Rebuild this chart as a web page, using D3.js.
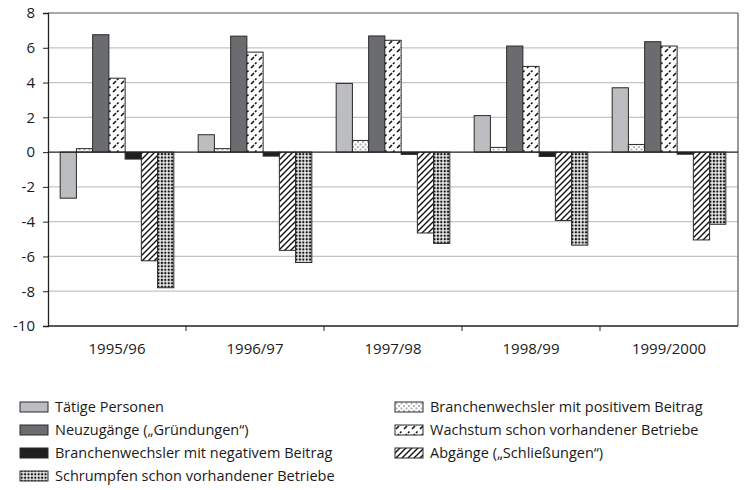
<!DOCTYPE html>
<html lang="de">
<head>
<meta charset="utf-8">
<title>Beschäftigungsentwicklung</title>
<script src="https://cdn.jsdelivr.net/npm/d3@7"></script>
<style>
    body { margin: 0; background: #fff; }
    #chart-container { width: 744px; height: 490px; }
    text { font-family: "Open Sans", "Noto Sans", sans-serif; fill: #1a1a1a; }
    .grid line { stroke: #c4c4c4; stroke-width: 1.2; }
    .bar { stroke: #2a2a2a; stroke-width: 1; }
</style>
</head>
<body>
<div id="chart-container"></div>
<script>
// chart data

const periods = ['1995/96', '1996/97', '1997/98', '1998/99', '1999/2000'];

const seriesNames = [
    'Tätige Personen',
    'Branchenwechsler mit positivem Beitrag',
    'Neuzugänge („Gründungen“)',
    'Wachstum schon vorhandener Betriebe',
    'Branchenwechsler mit negativem Beitrag',
    'Abgänge („Schließungen“)',
    'Schrumpfen schon vorhandener Betriebe'
];

const taetigePersonen   = [-2.65, 1.0, 3.95, 2.1, 3.7];
const wechslerPositiv   = [0.2, 0.2, 0.67, 0.27, 0.44];
const neuzugaenge       = [6.75, 6.67, 6.68, 6.1, 6.35];
const wachstum          = [4.25, 5.75, 6.43, 4.93, 6.1];
const wechslerNegativ   = [-0.4, -0.23, -0.13, -0.25, -0.12];
const abgaenge          = [-6.25, -5.65, -4.65, -3.93, -5.05];
const schrumpfen        = [-7.8, -6.35, -5.25, -5.35, -4.15];

const yTicks = [8, 6, 4, 2, 0, -2, -4, -6, -8, -10];

// legend order as printed (left column, then right column)
const legendLeft = [0, 2, 4, 6];
const legendRight = [1, 3, 5];

const allSeries = [taetigePersonen, wechslerPositiv, neuzugaenge, wachstum,
                   wechslerNegativ, abgaenge, schrumpfen];

function createChart() {
    const svg = d3.select('#chart-container').append('svg')
        .attr('width', 744)
        .attr('height', 490);

    const margin = {top: 13, right: 6, left: 48};
    const plotW = 744 - margin.left - margin.right;
    const plotH = 313;

    const defs = svg.append('defs');
    addPatterns(defs);
    const fills = ['#bcbdc1', 'url(#p-pos)', '#6b6c70', 'url(#p-grow)',
                   '#1f1f1f', 'url(#p-close)', 'url(#p-shrink)'];

    const g = svg.append('g')
        .attr('transform', `translate(${margin.left},${margin.top})`);

    const x0 = d3.scaleBand()
        .domain(periods)
        .range([0, plotW]);

    // Excel-like gap width of 150%
    const x1 = d3.scaleBand()
        .domain(d3.range(seriesNames.length))
        .range([0, x0.bandwidth()])
        .paddingOuter(0.75)
        .paddingInner(0);

    const y = d3.scaleLinear()
        .domain([-10, 8])
        .range([plotH, 0]);

    // gridlines
    g.append('g')
        .attr('class', 'grid')
        .selectAll('line')
        .data(yTicks.filter(t => t !== 0 && t !== -10 && t !== 8))
        .enter().append('line')
        .attr('x1', 0)
        .attr('x2', plotW)
        .attr('y1', d => y(d))
        .attr('y2', d => y(d));

    // frame top and right
    g.append('line')
        .attr('x1', 0).attr('x2', plotW)
        .attr('y1', y(8)).attr('y2', y(8))
        .attr('stroke', '#555').attr('stroke-width', 1.2);
    g.append('line')
        .attr('x1', plotW).attr('x2', plotW)
        .attr('y1', y(8)).attr('y2', y(-10))
        .attr('stroke', '#555').attr('stroke-width', 1.2);

    // bars
    const groups = g.selectAll('.period')
        .data(periods)
        .enter().append('g')
        .attr('class', 'period')
        .attr('transform', d => `translate(${x0(d)},0)`);

    groups.selectAll('rect')
        .data((p, i) => allSeries.map((s, k) => ({k, v: s[i]})))
        .enter().append('rect')
        .attr('class', 'bar')
        .attr('x', d => x1(d.k))
        .attr('width', x1.bandwidth())
        .attr('y', d => y(Math.max(0, d.v)))
        .attr('height', d => Math.abs(y(d.v) - y(0)))
        .attr('fill', d => fills[d.k]);

    // zero line
    g.append('line')
        .attr('x1', 0).attr('x2', plotW)
        .attr('y1', y(0)).attr('y2', y(0))
        .attr('stroke', '#222').attr('stroke-width', 1.2);

    // y axis, plain hyphen for negatives like the original
    const yAxis = g.append('g')
        .call(d3.axisLeft(y).tickValues(yTicks).tickSize(5).tickPadding(8)
            .tickFormat(d => String(d)));
    yAxis.select('.domain').attr('stroke', '#222').attr('stroke-width', 1.3);
    yAxis.selectAll('.tick line').attr('stroke', '#222');
    yAxis.selectAll('text').attr('font-size', 15);

    // x axis at the bottom with ticks between categories
    const xAxis = g.append('g')
        .attr('transform', `translate(0,${plotH})`);
    xAxis.append('line')
        .attr('x1', 0).attr('x2', plotW)
        .attr('stroke', '#222').attr('stroke-width', 1.3);
    xAxis.selectAll('.sep')
        .data(periods.slice(1))
        .enter().append('line')
        .attr('x1', d => x0(d)).attr('x2', d => x0(d))
        .attr('y1', 0).attr('y2', 5)
        .attr('stroke', '#222');
    xAxis.selectAll('.lbl')
        .data(periods)
        .enter().append('text')
        .attr('x', d => x0(d) + x0.bandwidth() / 2)
        .attr('y', 28)
        .attr('text-anchor', 'middle')
        .attr('font-size', 15)
        .text(d => d);

    addLegend(svg, fills);
}

/**
 * Hatch patterns used for the monochrome series.
 */
function addPatterns(defs) {
    const pos = defs.append('pattern')
        .attr('id', 'p-pos').attr('patternUnits', 'userSpaceOnUse')
        .attr('width', 5).attr('height', 5);
    pos.append('rect').attr('width', 5).attr('height', 5).attr('fill', '#fff');
    pos.append('rect').attr('x', 0.5).attr('y', 0.5).attr('width', 2).attr('height', 2).attr('fill', '#b4b4b4');
    pos.append('rect').attr('x', 3).attr('y', 3).attr('width', 2).attr('height', 2).attr('fill', '#b4b4b4');

    const grow = defs.append('pattern')
        .attr('id', 'p-grow').attr('patternUnits', 'userSpaceOnUse')
        .attr('width', 8).attr('height', 8);
    grow.append('rect').attr('width', 8).attr('height', 8).attr('fill', '#fff');
    grow.append('path').attr('d', 'M1,7 L4,4').attr('stroke', '#111').attr('stroke-width', 1.6);
    grow.append('path').attr('d', 'M5,3 L6.5,1.5').attr('stroke', '#111').attr('stroke-width', 1.6);

    const close = defs.append('pattern')
        .attr('id', 'p-close').attr('patternUnits', 'userSpaceOnUse')
        .attr('width', 6).attr('height', 6);
    close.append('rect').attr('width', 6).attr('height', 6).attr('fill', '#fff');
    close.append('path').attr('d', 'M-1,7 L7,-1 M-1,1 L1,-1 M5,7 L7,5')
        .attr('stroke', '#111').attr('stroke-width', 1.4);

    const shrink = defs.append('pattern')
        .attr('id', 'p-shrink').attr('patternUnits', 'userSpaceOnUse')
        .attr('width', 3.4).attr('height', 3.4);
    shrink.append('rect').attr('width', 3.4).attr('height', 3.4).attr('fill', '#fff');
    shrink.append('rect').attr('x', 0.6).attr('y', 0.6).attr('width', 2.2).attr('height', 2.2).attr('fill', '#111');
}

/**
 * Two-column legend below the chart.
 */
function addLegend(svg, fills) {
    const rowY = d3.scaleLinear().domain([0, 3]).range([407, 476]);
    const cols = [{items: legendLeft, x: 20}, {items: legendRight, x: 395}];

    cols.forEach(col => {
        const item = svg.append('g').selectAll('g')
            .data(col.items)
            .enter().append('g')
            .attr('transform', (d, i) => `translate(${col.x},${rowY(i)})`);
        item.append('rect')
            .attr('class', 'bar')
            .attr('x', 0).attr('y', -5)
            .attr('width', 28).attr('height', 10)
            .attr('stroke-width', 1.5)
            .attr('fill', d => fills[d]);
        item.append('text')
            .attr('x', 35).attr('y', 5)
            .attr('font-size', 14.5)
            .text(d => seriesNames[d]);
    });
}

createChart();
</script>
</body>
</html>
